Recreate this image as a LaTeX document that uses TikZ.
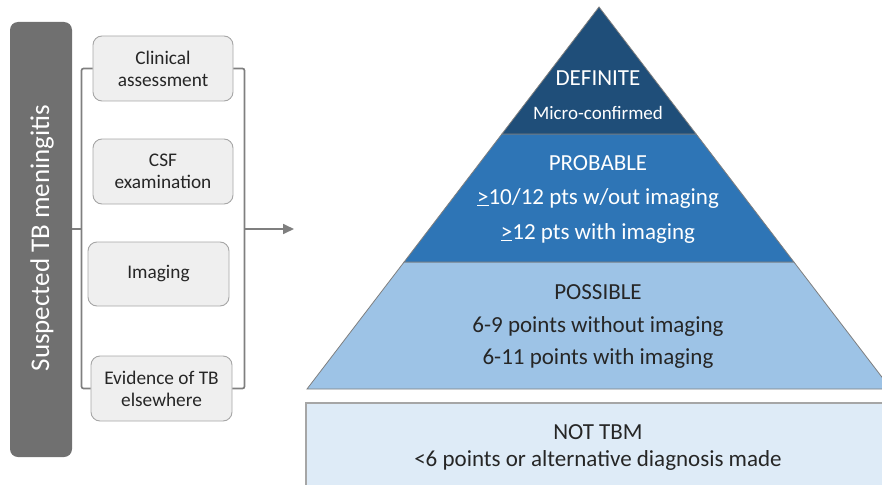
\documentclass[tikz,border=0pt]{standalone}
\usepackage{fontspec}
\setmainfont{Carlito}
\usetikzlibrary{arrows.meta}
\definecolor{defc}{HTML}{1F4E79}
\definecolor{probc}{HTML}{2E75B6}
\definecolor{possc}{HTML}{9DC3E6}
\definecolor{notc}{HTML}{DEEBF7}
\definecolor{barc}{HTML}{707070}
\definecolor{boxf}{HTML}{EFEFEF}
\definecolor{boxd}{HTML}{A6A6A6}
\definecolor{linec}{HTML}{7F7F7F}
\definecolor{txtc}{HTML}{262626}
\tikzset{
  sbox/.style={draw=boxd, fill=boxf, line width=0.9pt, rounded corners=9pt,
    minimum width=140pt, minimum height=65pt, align=center, text=txtc,
    font=\fontsize{19.3}{22}\selectfont, inner sep=0pt},
  brk/.style={draw=linec, line width=1.7pt, rounded corners=2pt},
  layer/.style={draw=linec, line width=0.8pt},
  wtxt/.style={text=white, font=\fontsize{23}{26}\selectfont, inner sep=0pt},
  ktxt/.style={text=txtc, font=\fontsize{23}{26}\selectfont, inner sep=0pt},
}
\begin{document}
\begin{tikzpicture}[x=1pt,y=-1pt]
\useasboundingbox (0,0) rectangle (882,484);
\clip (0,0) rectangle (882,484);
% left bar
\node[fill=barc, rounded corners=8pt, minimum width=62pt, minimum height=435pt, inner sep=0pt] (bar) at (41,239.5) {};
\node[rotate=90, text=white, font=\fontsize{27}{30}\selectfont, inner sep=0pt] (bartxt) at (42,238) {Suspected TB meningitis};
% criteria boxes
\node[sbox] (c1) at (163,68.5) {Clinical\\assessment};
\node[sbox] (c2) at (163,171.5) {CSF\\examination};
\node[sbox, minimum width=141pt, minimum height=64pt] (c3) at (158.5,274) {Imaging};
\node[sbox, minimum width=141pt] (c4) at (161.5,388.5) {Evidence of TB\\elsewhere};
% brackets
\coordinate (lm) at (82,229);
\coordinate (rm) at (244,229);
\coordinate (tip) at (294,229);
\draw[brk] (c1.west) -- ++(-11,0) |- (c4.west);
\draw[brk, rounded corners=0pt] (bar.east |- lm) -- (lm);
\draw[brk] (c1.east) -- ++(11,0) |- (c4.east);
\draw[brk, rounded corners=0pt, -{Triangle[length=11pt,width=10pt]}] (rm) -- (tip);
% pyramid
\coordinate (apex) at (599,7);
\coordinate (d1) at (501.9,134); \coordinate (d2) at (696.1,134);
\coordinate (p1) at (404.1,262); \coordinate (p2) at (793.9,262);
\coordinate (s1) at (307,389);   \coordinate (s2) at (891,389);
\draw[layer, fill=possc] (p1) -- (p2) -- (s2) -- (s1) -- cycle;
\draw[layer, fill=probc] (d1) -- (d2) -- (p2) -- (p1) -- cycle;
\draw[layer, fill=defc] (apex) -- (d2) -- (d1) -- cycle;
\draw[draw=boxd, fill=notc, line width=1.2pt] (306,403) rectangle (900,500);
% texts
\node[wtxt] (t1) at (598,78) {DEFINITE};
\node[wtxt, font=\fontsize{19}{22}\selectfont] (t2) at (598,113) {Micro-confirmed};
\node[wtxt] (t3) at (598,163) {PROBABLE};
\node[wtxt] (t4) at (598,198) {\underline{>}10/12 pts w/out imaging};
\node[wtxt] (t5) at (598,233) {\underline{>}12 pts with imaging};
\node[ktxt] (t6) at (598,292) {POSSIBLE};
\node[ktxt] (t7) at (598,326) {6-9 points without imaging};
\node[ktxt] (t8) at (598,358) {6-11 points with imaging};
\node[ktxt] (t9) at (598,432) {NOT TBM};
\node[ktxt] (t10) at (598,460) {<6 points or alternative diagnosis made};
\end{tikzpicture}
\end{document}
